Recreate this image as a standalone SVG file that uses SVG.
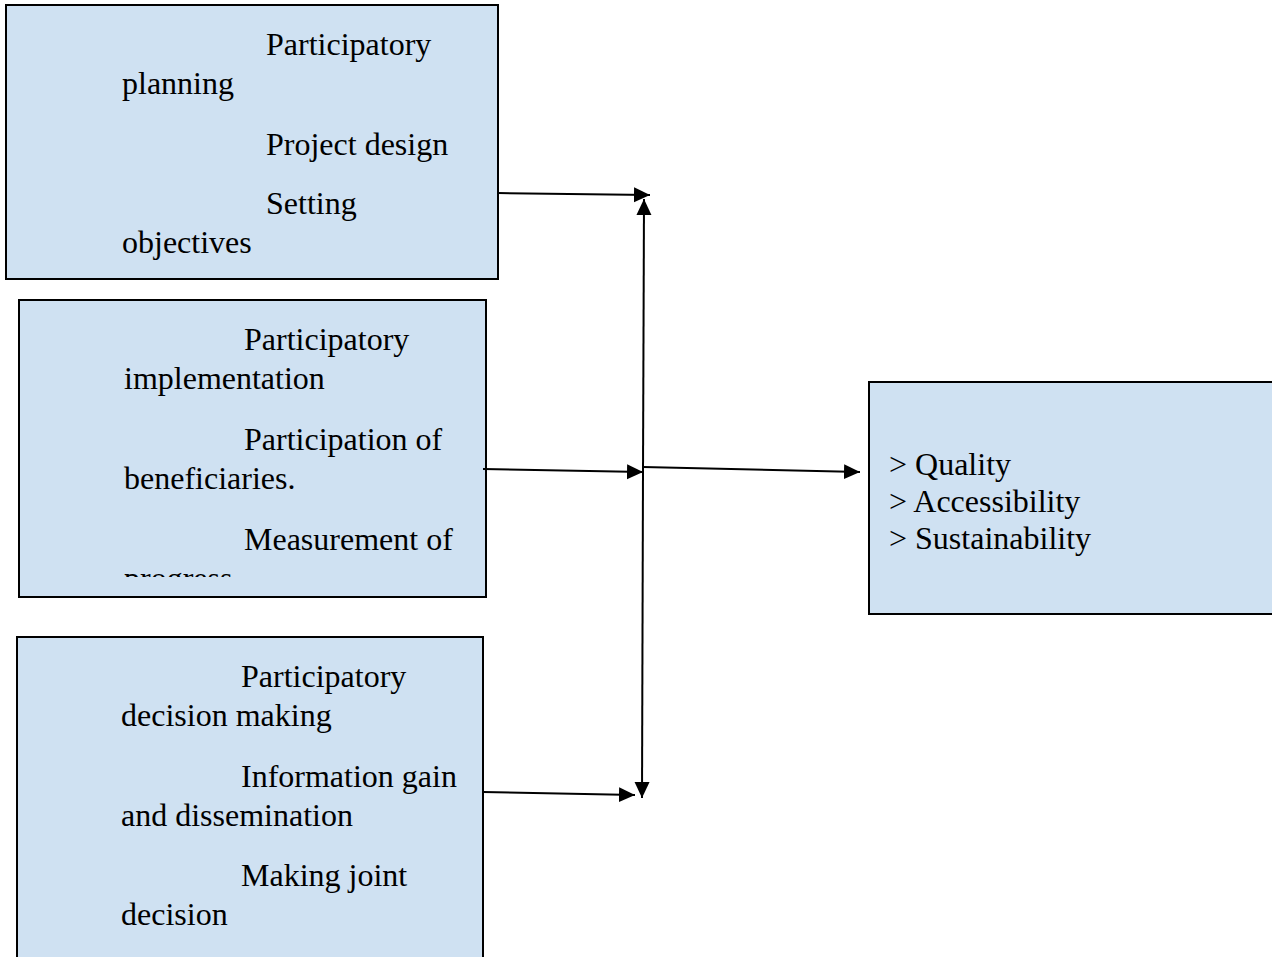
<svg xmlns="http://www.w3.org/2000/svg" width="1272" height="957" viewBox="0 0 1272 957">
<style>
.box{fill:#cfe1f2;stroke:#000;stroke-width:2}
.t{font-family:"Liberation Serif","Times New Roman",serif;font-size:32px;fill:#000}
.c{fill:none;stroke:#000;stroke-width:2}
</style>
<defs>
<marker id="ah" markerUnits="userSpaceOnUse" markerWidth="18" markerHeight="18" viewBox="0 0 18 18" refX="16" refY="9" orient="auto">
<path d="M0,1.5 L16,9 L0,16.5 Z" fill="#000"/>
</marker>
<clipPath id="clip2"><rect x="19" y="300" width="467" height="277"/></clipPath>
</defs>
<rect width="1272" height="957" fill="#fff"/>
<g id="node-planning">
<rect class="box" x="6" y="5" width="492" height="274"/>
<text class="t" x="266" y="55">Participatory</text>
<text class="t" x="122" y="94">planning</text>
<text class="t" x="266" y="155">Project design</text>
<text class="t" x="266" y="214">Setting</text>
<text class="t" x="122" y="253">objectives</text>
</g>
<g id="node-implementation">
<rect class="box" x="19" y="300" width="467" height="297"/>
<g clip-path="url(#clip2)">
<text class="t" x="244" y="350">Participatory</text>
<text class="t" x="124" y="389">implementation</text>
<text class="t" x="244" y="450">Participation of</text>
<text class="t" x="124" y="489">beneficiaries.</text>
<text class="t" x="244" y="550">Measurement of</text>
<text class="t" x="124" y="589">progress</text>
</g>
</g>
<g id="node-decision">
<rect class="box" x="17" y="637" width="466" height="330"/>
<text class="t" x="241" y="687">Participatory</text>
<text class="t" x="121" y="726">decision making</text>
<text class="t" x="241" y="787">Information gain</text>
<text class="t" x="121" y="826">and dissemination</text>
<text class="t" x="241" y="886">Making joint</text>
<text class="t" x="121" y="925">decision</text>
</g>
<g id="node-outcomes">
<rect class="box" x="869" y="382" width="420" height="232"/>
<text class="t" x="889" y="475">&gt; Quality</text>
<text class="t" x="889" y="512">&gt; Accessibility</text>
<text class="t" x="889" y="549">&gt; Sustainability</text>
</g>
<g id="connectors">
<line class="c" x1="498" y1="193" x2="650" y2="195" marker-end="url(#ah)"/>
<line class="c" x1="643" y1="470" x2="644" y2="199" marker-end="url(#ah)"/>
<line class="c" x1="643" y1="470" x2="642" y2="798" marker-end="url(#ah)"/>
<line class="c" x1="483" y1="469" x2="643" y2="472" marker-end="url(#ah)"/>
<line class="c" x1="643" y1="467" x2="860" y2="472" marker-end="url(#ah)"/>
<line class="c" x1="483" y1="792" x2="635" y2="795" marker-end="url(#ah)"/>
</g>
</svg>
